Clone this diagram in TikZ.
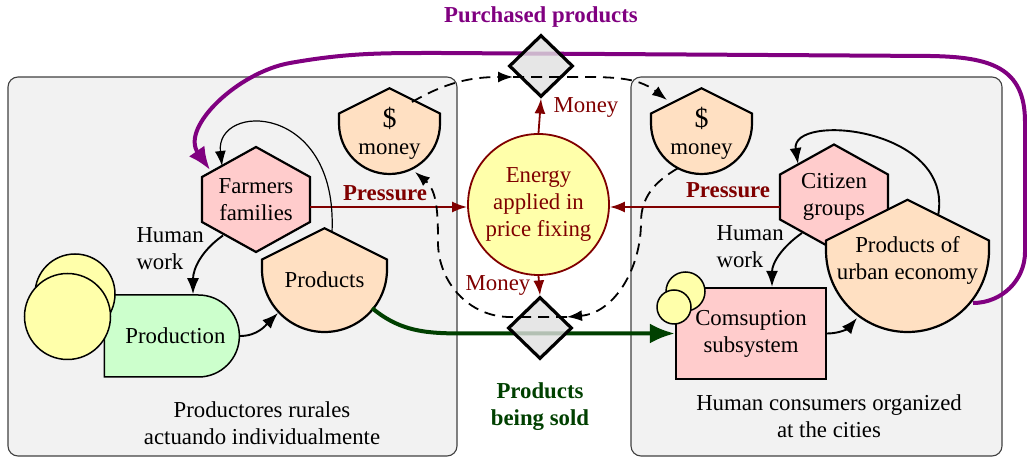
\documentclass[tikz,border=0pt]{standalone}
\usepackage{fontspec}
\setmainfont{Liberation Serif}
\usetikzlibrary{arrows.meta,shapes.geometric,shapes.misc}

\definecolor{panelgray}{RGB}{242,242,242}
\definecolor{pinkfill}{RGB}{255,204,204}
\definecolor{peach}{RGB}{255,224,194}
\definecolor{mint}{RGB}{204,255,204}
\definecolor{lightyellow}{RGB}{255,255,170}
\definecolor{darkred}{RGB}{128,0,0}
\definecolor{darkpurple}{RGB}{128,0,128}
\definecolor{darkgreen}{RGB}{0,64,0}

\newcommand{\hexnode}[4]{%
  \draw[hexline] (#2,{#3+52.5}) -- ({#2+54},{#3+22.5}) -- ({#2+54},{#3-22.5})
    -- (#2,{#3-52.5}) -- ({#2-54},{#3-22.5}) -- ({#2-54},{#3+22.5}) -- cycle;
  \node[hexa] (#1) at (#2,#3) {#4};}
\newcommand{\shieldnode}[5]{%
  \draw[shieldline] ({#2-#4},#3) -- ({#2-#4},{#3+10}) -- (#2,{#3+10+0.5*#4})
    -- ({#2+#4},{#3+10}) -- ({#2+#4},#3) arc[start angle=0,end angle=-180,radius=#4pt] -- cycle;
  \node[shieldtext] (#1) at (#2,{#3-10}) {#5};}

\begin{document}
\begin{tikzpicture}[x=1pt,y=1pt,
  every node/.style={font=\fontsize{22.8}{27}\selectfont},
  panel/.style={draw=black!75,fill=panelgray,rounded corners=10pt,line width=1.1pt},
  hexline/.style={draw=black,fill=pinkfill,line width=2.2pt},
  hexa/.style={align=center,minimum width=108pt,minimum height=105pt,inner sep=0pt},
  shieldline/.style={draw=black,fill=peach,line width=2.2pt},
  shieldtext/.style={align=center,inner sep=0pt},
  ball/.style={circle,draw=black,fill=lightyellow,line width=1.5pt,inner sep=0pt},
  valve/.style={diamond,draw=black,fill=black!12,fill opacity=0.8,line width=3.2pt,
    minimum width=64pt,minimum height=62pt,inner sep=0pt},
  flow/.style={-{Latex[length=16pt,width=12pt]},line width=1.9pt},
  thinflow/.style={-{Latex[length=15pt,width=11pt]},line width=1.2pt},
  dashflow/.style={-{Latex[length=15pt,width=11pt]},line width=1.8pt,dash pattern=on 11pt off 7pt},
  pressflow/.style={-{Latex[length=15pt,width=11pt]},draw=darkred,fill=darkred,line width=1.8pt},
  buyflow/.style={-{Latex[length=23pt,width=19pt]},draw=darkpurple,line width=4pt},
  soldflow/.style={-{Latex[length=25pt,width=20pt]},draw=darkgreen,line width=4pt},
  presslabel/.style={text=darkred,font=\fontsize{22.8}{27}\selectfont\bfseries}]

  \useasboundingbox (0,0) rectangle (1027,457);

  \draw[panel] (8,1) rectangle (457,380);
  \draw[panel] (631,1) rectangle (1002,380);
  \node[align=center] (ruraltxt) at (262,33.5) {Productores rurales\\actuando individualmente};
  \node[align=center] (citytxt) at (829,41) {Human consumers organized\\at the cities};

  \node[text=darkpurple,font=\fontsize{22.8}{27}\selectfont\bfseries] (buytxt) at (541,440) {Purchased products};
  \node[text=darkgreen,font=\fontsize{22.8}{27}\selectfont\bfseries,align=center] (soldtxt) at (540,50.5) {Products\\being sold};

  \node[rounded rectangle,rounded rectangle left arc=none,draw=black,fill=mint,line width=1.5pt,
    minimum width=135pt,minimum height=82pt,inner sep=0pt] (production) at (171.5,121) {\hspace*{8pt}Production};
  \node[ball,minimum size=80pt] (ballback) at (75,163) {};
  \node[ball,minimum size=86pt] (ballfront) at (67.5,140.5) {};

  \hexnode{farmers}{256}{257.5}{Farmers\\families}
  \shieldnode{products}{324.5}{187.5}{62.5}{Products}
  \shieldnode{lmoney}{389.5}{333.5}{50.5}{{\fontsize{28}{29}\selectfont\$}\\money}
  \shieldnode{rmoney}{701.5}{333.5}{50.5}{{\fontsize{28}{29}\selectfont\$}\\money}
  \hexnode{citizens}{834}{260}{Citizen\\groups}
  \shieldnode{urban}{907.5}{206.5}{81.5}{Products of\\urban economy}

  \node[draw=black,fill=pinkfill,line width=2.2pt,minimum width=150pt,minimum height=91pt,
    align=center,inner sep=0pt] (consum) at (751,123.5) {Comsuption\\subsystem};
  \node[ball,minimum size=39pt] (cballback) at (685.5,165.5) {};
  \node[ball,minimum size=34pt] (cballfront) at (674,150) {};

  \node[circle,draw=darkred,fill=lightyellow,line width=1.8pt,minimum size=141pt,inner sep=0pt,
    text=darkred,align=center] (energy) at (538.5,252.5) {Energy\\applied in\\price fixing};

  \draw[buyflow] ([shift={(65.5,-42.5)}]urban.center) to[out=0,in=-90] (1025,205) -- (1025,335)
    .. controls (1025,390) and (990,400) .. (930,401) -- (440,404)
    to[out=180,in=10] (290,394) to[out=190,in=125] ([shift={(-46,29.5)}]farmers.center);
  \draw[soldflow] ([shift={(47.5,-28.5)}]products.center) to[out=-40,in=180] (470,123.5) -- (consum.west);

  \node[valve] (purchase) at (541,391) {};
  \node[valve] (sale) at (540,129) {};

  \draw[pressflow] (farmers.east |- 0,250) -- ([yshift=-2.5pt]energy.west);
  \draw[pressflow] (citizens.west |- 0,250) -- ([yshift=-2.5pt]energy.east);
  \node[presslabel] (presslft) at (385,264) {Pressure};
  \node[presslabel] (pressrgt) at (728,267) {Pressure};

  \draw[pressflow] (energy.north) -- (purchase.south);
  \draw[pressflow] (energy.south) -- (sale.north);
  \node[text=darkred] (moneyup) at (586,349) {Money};
  \node[text=darkred] (moneydown) at (498,172) {Money};

  \draw[dashflow] ([shift={(22.5,31.5)}]lmoney.center) to[out=30,in=180] ([shift={(-28,-11)}]purchase.center);
  \draw[dashflow] ([shift={(-28,-11)}]purchase.center) -- ([shift={(31,-11)}]purchase.center)
    to[out=0,in=142] ([shift={(-34.5,33.5)}]rmoney.center);
  \draw[dashflow] ([shift={(-24,-35)}]rmoney.center) to[out=-150,in=90] (641,235)
    to[out=-90,in=5] ([shift={(27,11)}]sale.center);
  \draw[dashflow] ([shift={(27,11)}]sale.center) -- ([shift={(-30,11)}]sale.center)
    to[out=180,in=-90] (438,215) to[out=90,in=-40] ([shift={(25.5,-38.5)}]lmoney.center);

  \draw[flow] ([shift={(-33,-36)}]farmers.center) to[out=-145,in=90] ([xshift=21.5pt]production.north);
  \node[anchor=west,align=left] (worklft) at (133,208) {Human\\work};
  \draw[flow] (production.east) to[out=0,in=-135] ([shift={(-46.5,-33.5)}]products.center);
  \draw[thinflow] ([shift={(7.5,47.5)}]products.center) .. controls (338,355) and (215,355) .. ([shift={(-34,33.5)}]farmers.center);

  \draw[flow] ([shift={(-32,-36)}]citizens.center) to[out=-145,in=90] ([xshift=21pt]consum.north);
  \node[anchor=west,align=left] (workrgt) at (713,210.5) {Human\\work};
  \draw[flow] (consum.east) to[out=0,in=-130] ([shift={(-50.5,-57.5)}]urban.center);
  \draw[flow] ([shift={(30.5,44.5)}]urban.center) .. controls (955,330) and (790,345) .. ([shift={(-36,33)}]citizens.center);
\end{tikzpicture}
\end{document}
